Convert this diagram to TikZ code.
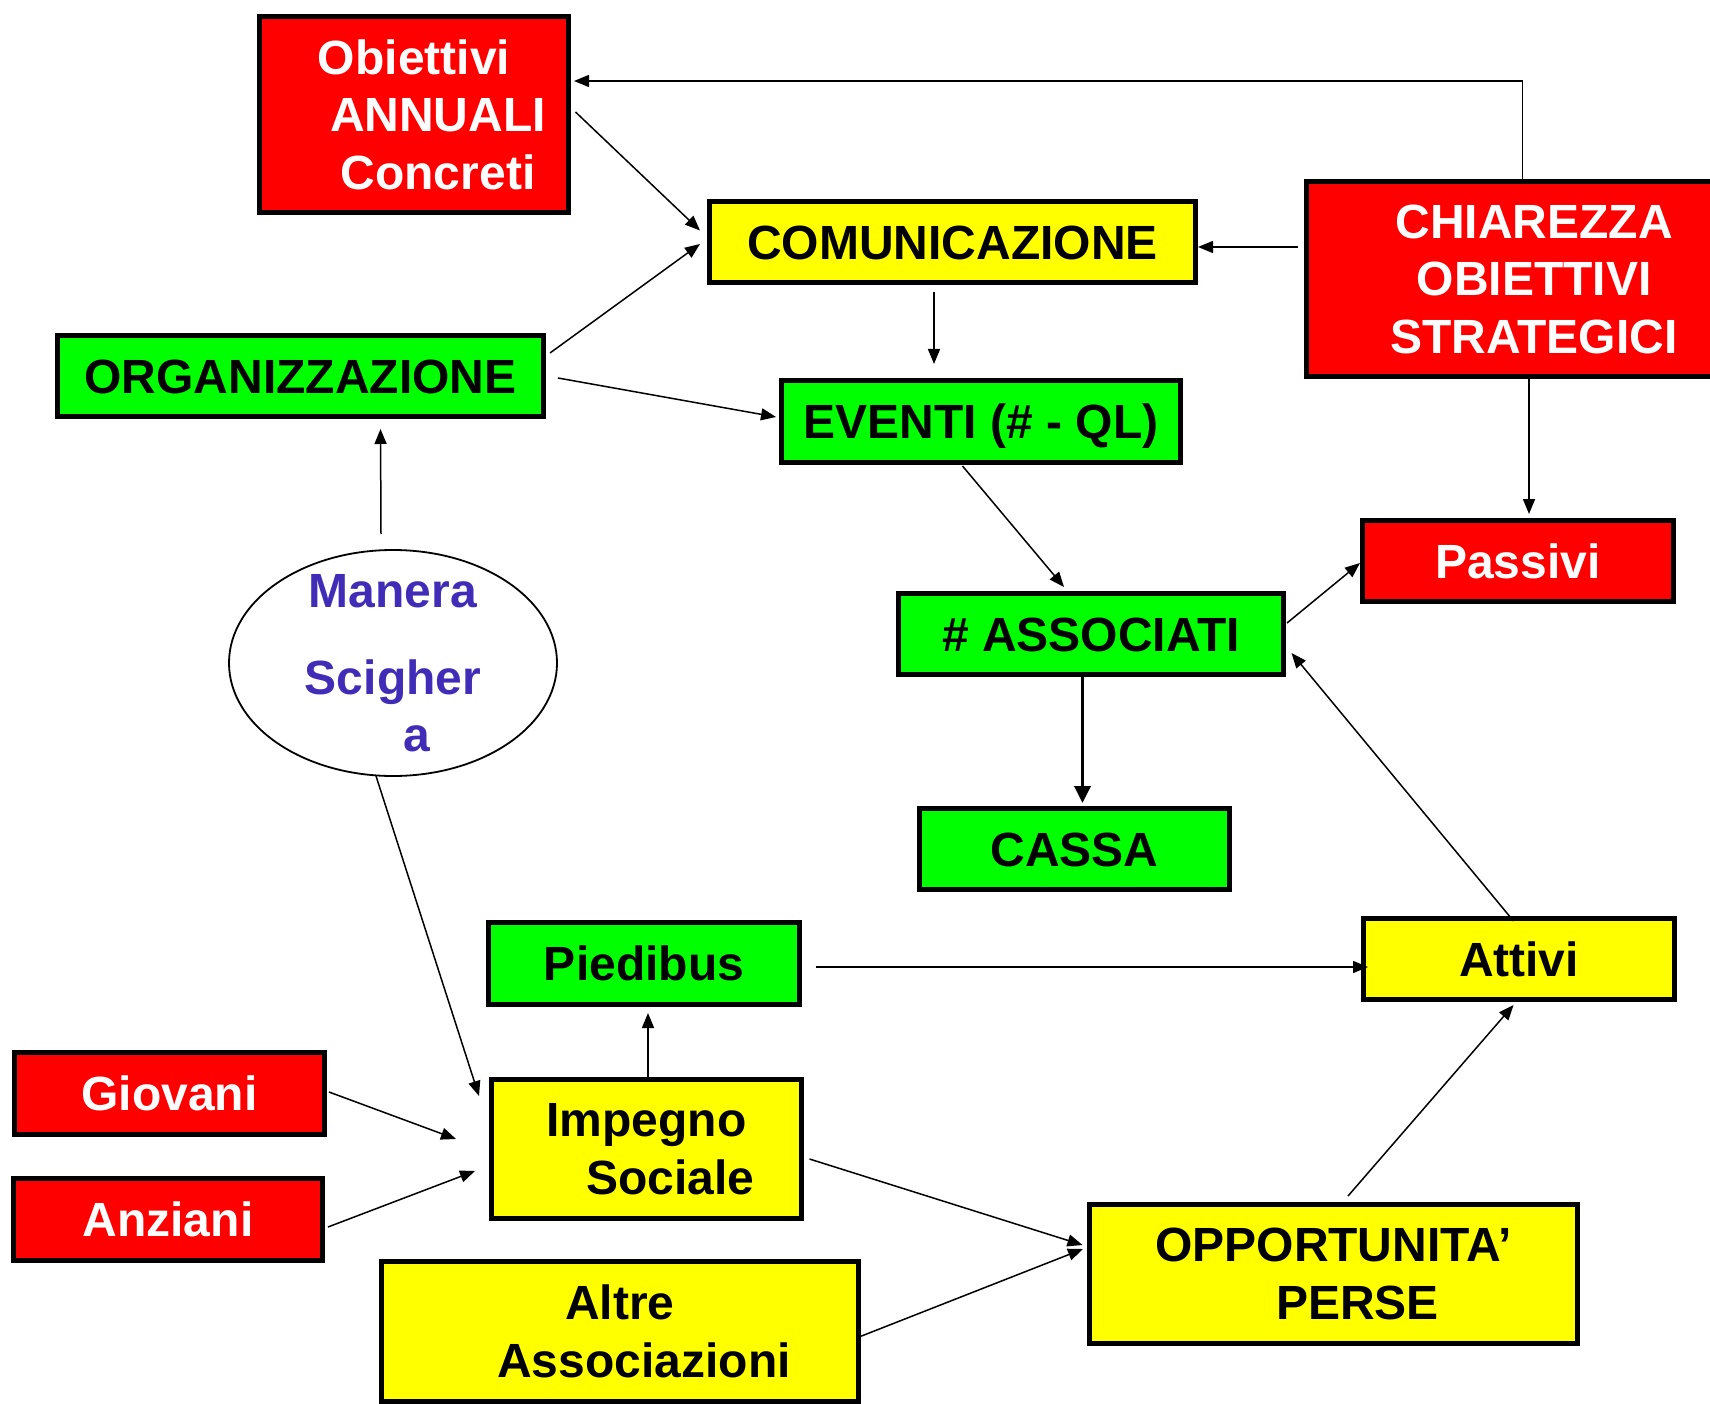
\documentclass[tikz,border=0pt]{standalone}
\usepackage{fontspec}
\setmainfont{Liberation Sans}
\usetikzlibrary{arrows.meta,shapes.geometric}
\definecolor{rd}{RGB}{255,0,0}
\definecolor{yl}{RGB}{255,255,0}
\definecolor{gr}{RGB}{0,255,0}
\definecolor{manc}{RGB}{64,44,182}
\begin{document}
\begin{tikzpicture}[x=1pt,y=-1pt,
  box/.style={draw=black,line width=5pt,rectangle,inner sep=0pt,outer sep=0pt,
    font=\bfseries\fontsize{48}{57.5}\selectfont},
  one/.style={text height=34.5pt,text depth=0pt},
  multi/.style={align=center},
  redbox/.style={box,fill=rd,text=white},
  ylbox/.style={box,fill=yl,text=black},
  grbox/.style={box,fill=gr,text=black},
  sz/.style n args={2}{minimum width=#1pt-5pt,minimum height=#2pt-5pt},
  arr/.style={line width=1.5pt,-{Triangle[length=15pt,width=12pt]}},
  thickarr/.style={line width=3.5pt,-{Triangle[length=17pt,width=16pt]}},
  mantext/.style={font=\bfseries\fontsize{48}{57.5}\selectfont,text=manc,align=center,inner sep=0pt}]
\useasboundingbox (0,0) rectangle (1710,1404);
\fill[white] (0,0) rectangle (1710,1404);

% boxes
\node[redbox,multi,sz={314}{201}] (obj) at (414,114.5) {Obiettivi\\\hspace*{48pt}ANNUALI\\\hspace*{48pt}Concreti};
\node[ylbox,one,sz={491}{86}] (com) at (952.5,242) {COMUNICAZIONE};
\node[redbox,multi,sz={460}{200}] (chi) at (1534,279) {CHIAREZZA\\OBIETTIVI\\STRATEGICI};
\node[grbox,one,sz={491}{86}] (org) at (300.5,376) {ORGANIZZAZIONE};
\node[grbox,one,sz={404}{87}] (ev) at (981,421.5) {EVENTI (\# - QL)};
\node[grbox,one,sz={390}{86}] (ass) at (1091,634) {\# ASSOCIATI};
\node[redbox,one,sz={316}{86}] (pas) at (1518,561) {Passivi};
\node[grbox,one,sz={315}{86}] (cas) at (1074.5,849) {CASSA};
\node[grbox,one,sz={316}{87}] (pie) at (644,963.5) {Piedibus};
\node[ylbox,one,sz={316}{86}] (att) at (1519,959) {Attivi};
\node[redbox,one,sz={315}{87}] (gio) at (169.5,1093.5) {Giovani};
\node[redbox,one,sz={314}{87}] (anz) at (168,1219.5) {Anziani};
\node[ylbox,multi,sz={315}{144}] (imp) at (646.5,1149) {Impegno\\\hspace*{48pt}Sociale};
\node[ylbox,multi,sz={482}{145}] (alt) at (620,1331.5) {Altre\\\hspace*{48pt}Associazioni};
\node[ylbox,multi,sz={493}{144}] (opp) at (1333.5,1274) {OPPORTUNITA’\\\hspace*{48pt}PERSE};

% ellipse
\node[draw=black,line width=1.8pt,ellipse,inner sep=0pt,outer sep=0pt,
  minimum width=328pt,minimum height=226pt] (man) at (393,663) {};
\node[mantext] (mantxt) at (man.center) {Manera\\[29.5pt]Scigher\\\hspace*{48pt}a};

% connectors
\draw[arr] ([shift={(-11.5,0)}]chi.north) |- ([shift={(5.5,-33.5)}]obj.east);
\draw[arr] ([shift={(7,-2.5)}]obj.east) -- ([shift={(-9.5,-11.5)}]com.west);
\draw[arr] ([shift={(6.5,-23)}]org.east) -- ([shift={(-9.5,2)}]com.west);
\draw[arr] ([shift={(14.5,2)}]org.east) -- ([shift={(-5.5,-4.5)}]ev.west);
\draw[arr] ([shift={(-12,-16)}]man.north) -- ([shift={(80,12.5)}]org.south);
\draw[arr] ([shift={(-18.5,9.5)}]com.south) -- ([shift={(-47,-16.5)}]ev.north);
\draw[arr] ([shift={(-9,-32)}]chi.west) -- ([shift={(2.5,5)}]com.east);
\draw[arr] ([shift={(-18.5,3.5)}]ev.south) -- ([shift={(-27,-6.5)}]ass.north);
\draw[arr] ([shift={(-5,0)}]chi.south) -- ([shift={(11,-6.5)}]pas.north);
\draw[arr] ([shift={(3.5,-11)}]ass.east) -- ([shift={(-2.5,2)}]pas.west);
\draw[thickarr] ([shift={(-8.5,2.5)}]ass.south) -- ([shift={(8,-5.5)}]cas.north);
\draw[arr] ([shift={(-5.5,2.5)}]att.north) -- ([shift={(8,19)}]ass.east);
\draw[arr] ([shift={(16,3.5)}]pie.east) -- ([shift={(4.5,8)}]att.west);
\draw[arr] ([shift={(1.5,-2.5)}]imp.north) -- ([shift={(4,8.5)}]pie.south);
\draw[arr] ([shift={(-17,0)}]man.south) -- ([shift={(-12.5,-53)}]imp.west);
\draw[arr] ([shift={(4.5,-1.5)}]gio.east) -- ([shift={(-35.5,-10)}]imp.west);
\draw[arr] ([shift={(5.5,7.5)}]anz.east) -- ([shift={(-16.5,22)}]imp.west);
\draw[arr] ([shift={(8,10)}]imp.east) -- ([shift={(-7,-29)}]opp.west);
\draw[arr] ([shift={(0.5,5.5)}]alt.east) -- ([shift={(-6.5,-25)}]opp.west);
\draw[arr] ([shift={(14.5,-8.5)}]opp.north) -- ([shift={(-5.5,5.5)}]att.south);
\end{tikzpicture}
\end{document}
